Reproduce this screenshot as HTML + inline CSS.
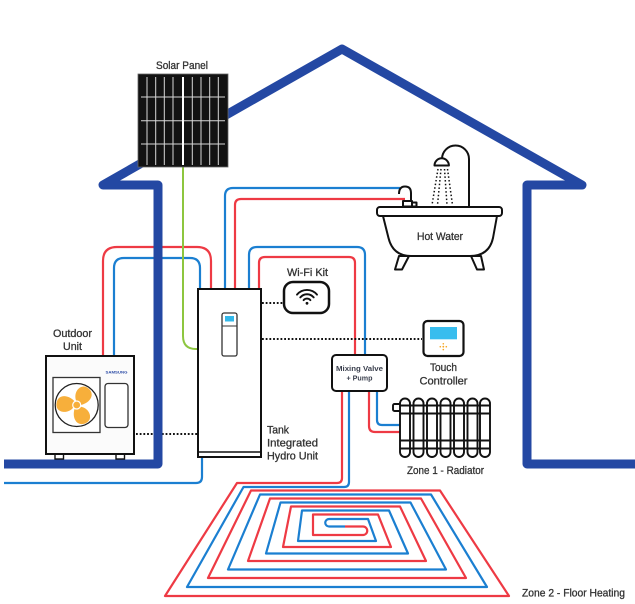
<!DOCTYPE html>
<html><head><meta charset="utf-8"><style>
html,body{margin:0;padding:0;background:#fff;}
body{width:635px;height:604px;overflow:hidden;}
svg{display:block;}
text{font-family:"Liberation Sans",sans-serif;fill:#333;stroke:#333;stroke-width:0.3;}
</style></head><body>
<svg width="635" height="604" viewBox="0 0 635 604" xmlns="http://www.w3.org/2000/svg">
<rect width="635" height="604" fill="#fff"/>

<!-- pipes -->
<g fill="none" stroke-width="2.2" stroke-linejoin="round">
  <path stroke="#ee3a44" d="M103,357 V261 Q103,247 117,247 H197 Q211,247 211,261 V289"/>
  <path stroke="#1b7fd1" d="M114,357 V268 Q114,258 124,258 H190 Q200,258 200,268 V289"/>
  <path stroke="#1b7fd1" d="M225,289 V196 Q225,188 233,188 H400"/>
  <path stroke="#ee3a44" d="M235,289 V205 Q235,199 241,199 H405"/>
  <path stroke="#1b7fd1" d="M249,289 V255 Q249,247 257,247 H357 Q365,247 365,255 V355"/>
  <path stroke="#ee3a44" d="M259,289 V263 Q259,257 265,257 H349 Q355,257 355,263 V355"/>
  <path stroke="#1b7fd1" d="M377,391 V420 Q377,425 382,425 H400"/>
  <path stroke="#ee3a44" d="M369,391 V426 Q369,432 375,432 H400"/>
  <path stroke="#1b7fd1" d="M202,457 V477 Q202,483 196,483 H4"/>
  <!-- floor heating -->
  <path stroke="#ee3a44" d="M342,391 V478 Q342,483 337,483 L237,483 L165,596 L509,596 L440,490.5 L251,490.5 L208,578 L466,578 L421,498.5 L270,498.5 L248,561 L426,561 L400,506.5 L291,506.5 L283,547 L391,547 L378,514.5 L313,514.5 L313,535 L363,535 A4.25,4.25 0 0 0 363,526.5 L345,526.5"/>
  <path stroke="#1b7fd1" d="M349,391 V482 Q349,487 344,487 L243.5,487 L187,587 L487,587 L431,494.5 L260,494.5 L228,569.5 L446,569.5 L410.5,502.5 L280.5,502.5 L266,553.5 L408,553.5 L389,510.5 L302,510.5 L298,541 L376,541 L368,519 L329,519 A3.75,3.75 0 0 0 329,526.5 L345,526.5"/>
  <!-- green solar cable -->
  <path stroke="#8dc63f" stroke-width="2" d="M183,167 V336 Q183,349 196,349 H199"/>
</g>

<!-- dotted lines -->
<g stroke="#111" stroke-width="1.9" stroke-dasharray="1.8 1.9" fill="none">
  <line x1="262" y1="303" x2="283" y2="303"/>
  <line x1="262" y1="339" x2="422" y2="339"/>
  <line x1="136" y1="434" x2="197" y2="434"/>
</g>

<!-- house -->
<path d="M4,464 H158 V185 H103 L342,49 L582,185 H527 V464 H640" fill="none" stroke="#2448a3" stroke-width="9" stroke-linejoin="round"/>

<!-- solar panel -->
<rect x="138" y="74" width="90" height="93" fill="#121212" stroke="#666" stroke-width="0.8"/>
<g stroke="#d8d8d8" stroke-width="1">
  <line x1="147" y1="77" x2="147" y2="165"/>
  <line x1="155.7" y1="77" x2="155.7" y2="165"/>
  <line x1="164.3" y1="77" x2="164.3" y2="165"/>
  <line x1="173" y1="77" x2="173" y2="165"/>
  <line x1="192.3" y1="77" x2="192.3" y2="165"/>
  <line x1="201" y1="77" x2="201" y2="165"/>
  <line x1="209.7" y1="77" x2="209.7" y2="165"/>
  <line x1="218.3" y1="77" x2="218.3" y2="165"/>
  <line x1="141" y1="97" x2="225" y2="97"/>
  <line x1="141" y1="120.7" x2="225" y2="120.7"/>
  <line x1="141" y1="144" x2="225" y2="144"/>
</g>
<line x1="183" y1="77" x2="183" y2="165" stroke="#fff" stroke-width="2"/>
<text x="182" y="69" font-size="11" textLength="52" lengthAdjust="spacingAndGlyphs" text-anchor="middle">Solar Panel</text>

<!-- bathtub -->
<g stroke="#111" stroke-width="2" fill="#fff" stroke-linejoin="round">
  <polygon points="399,256 409,256 402,269.5 395,269.5"/>
  <polygon points="471,256 481,256 484,269.5 477,269.5"/>
  <path d="M383,216 L388.5,238 Q393,256 411,256 L470,256 Q489,256 493,238 L497,216"/>
  <rect x="377" y="207" width="125" height="9" rx="3"/>
  <path d="M399,194 Q399,186.5 405,186.5 Q411,186.5 411,193 V201" fill="none"/>
  <rect x="403" y="201" width="9" height="5.5"/>
  <rect x="412" y="202.5" width="4.5" height="4"/>
  <path d="M469,206.5 V159 A13.5,13.5 0 0 0 442,159 V158.5" fill="none"/>
  <path d="M434.5,165.5 A7.2,7.2 0 0 1 448.9,165.5 Z"/>
</g>
<g stroke="#111" stroke-width="1.5" stroke-dasharray="1.5 2.2" fill="none">
  <line x1="438" y1="169" x2="432" y2="205"/>
  <line x1="441" y1="169" x2="437.5" y2="205"/>
  <line x1="444.5" y1="169" x2="447" y2="205"/>
  <line x1="447.5" y1="169" x2="452.5" y2="205"/>
</g>
<text x="440" y="240" font-size="11" textLength="46" lengthAdjust="spacingAndGlyphs" text-anchor="middle">Hot Water</text>

<!-- Wi-Fi kit -->
<text x="307.5" y="276" font-size="11" textLength="41" lengthAdjust="spacingAndGlyphs" text-anchor="middle">Wi-Fi Kit</text>
<rect x="284" y="282" width="45" height="31" rx="9" fill="#fff" stroke="#111" stroke-width="2.5"/>
<g fill="none" stroke="#111" stroke-width="1.9" stroke-linecap="round">
  <path d="M297,294.6 A13,13 0 0 1 317,294.6"/>
  <path d="M300.3,297.4 A8.7,8.7 0 0 1 313.7,297.4"/>
  <path d="M303.6,300.1 A4.5,4.5 0 0 1 310.4,300.1"/>
</g>
<circle cx="307" cy="303.3" r="1.4" fill="#111"/>

<!-- hydro unit -->
<rect x="198" y="289" width="63" height="168" fill="#fff" stroke="#111" stroke-width="2"/>
<line x1="198" y1="452" x2="261" y2="452" stroke="#111" stroke-width="1.6"/>
<rect x="222" y="313" width="15" height="43" rx="2" fill="#fff" stroke="#333" stroke-width="1.3"/>
<line x1="222" y1="326" x2="237" y2="326" stroke="#333" stroke-width="1"/>
<rect x="225" y="316" width="9" height="5.5" fill="#33b8ea"/>
<text x="267" y="433.5" font-size="11" textLength="22" lengthAdjust="spacingAndGlyphs">Tank</text>
<text x="267" y="446.5" font-size="11" textLength="51" lengthAdjust="spacingAndGlyphs">Integrated</text>
<text x="267" y="459.5" font-size="11" textLength="51" lengthAdjust="spacingAndGlyphs">Hydro Unit</text>

<!-- outdoor unit -->
<text x="72.5" y="337" font-size="11" textLength="39" lengthAdjust="spacingAndGlyphs" text-anchor="middle">Outdoor</text>
<text x="72.5" y="350" font-size="11" textLength="19" lengthAdjust="spacingAndGlyphs" text-anchor="middle">Unit</text>
<rect x="55" y="453" width="8.5" height="6" fill="#fff" stroke="#111" stroke-width="1.4"/>
<rect x="116" y="453" width="8.5" height="6" fill="#fff" stroke="#111" stroke-width="1.4"/>
<rect x="46" y="356" width="88" height="98" fill="#fbfbfb" stroke="#111" stroke-width="2"/>
<rect x="53" y="377.5" width="47" height="55" fill="#fff" stroke="#333" stroke-width="1.3"/>
<circle cx="76.7" cy="405" r="21.5" fill="#fff" stroke="#222" stroke-width="1.3"/>
<g transform="translate(76.7,405)" fill="#f7af3b">
  <path transform="rotate(-45)" d="M2.5,-3 C6,-12 19,-13 20,-3.5 C21,5 12,8.5 3,3 Z"/>
  <path transform="rotate(75)" d="M2.5,-3 C6,-12 19,-13 20,-3.5 C21,5 12,8.5 3,3 Z"/>
  <path transform="rotate(195)" d="M2.5,-3 C6,-12 19,-13 20,-3.5 C21,5 12,8.5 3,3 Z"/>
  <circle r="4" stroke="#fff" stroke-width="1.2"/>
</g>
<rect x="105" y="383.5" width="23" height="44" rx="3" fill="#fff" stroke="#333" stroke-width="1.3"/>
<text x="116.5" y="373.5" font-size="4" font-weight="bold" textLength="22" lengthAdjust="spacingAndGlyphs" text-anchor="middle" style="fill:#2a4aa5;stroke:none">SAMSUNG</text>

<!-- mixing valve -->
<rect x="332" y="355" width="55" height="36" rx="4" fill="#fff" stroke="#111" stroke-width="2"/>
<text x="359.5" y="371" font-size="7.5" font-weight="bold" textLength="47" lengthAdjust="spacingAndGlyphs" text-anchor="middle" style="fill:#3a3f4d;stroke:none">Mixing Valve</text>
<text x="359.5" y="380.5" font-size="7.5" font-weight="bold" textLength="26" lengthAdjust="spacingAndGlyphs" text-anchor="middle" style="fill:#3a3f4d;stroke:none">+ Pump</text>

<!-- touch controller -->
<rect x="423.5" y="321" width="40" height="35" rx="4" fill="#fff" stroke="#111" stroke-width="2.2"/>
<rect x="430" y="327" width="27" height="12.3" fill="#38bdee"/>
<g fill="#f5a623">
  <circle cx="443.3" cy="343.8" r="0.8"/>
  <circle cx="443.3" cy="349.6" r="0.8"/>
  <circle cx="440.3" cy="346.7" r="0.8"/>
  <circle cx="446.3" cy="346.7" r="0.8"/>
  <circle cx="443.3" cy="346.7" r="0.9"/>
</g>
<text x="443.5" y="371" font-size="11" textLength="27" lengthAdjust="spacingAndGlyphs" text-anchor="middle">Touch</text>
<text x="443.5" y="384.5" font-size="11" textLength="48" lengthAdjust="spacingAndGlyphs" text-anchor="middle">Controller</text>

<!-- radiator -->
<g stroke="#111" stroke-width="1.9" fill="#fff">
  <rect x="393" y="404" width="7.5" height="7" rx="1.5"/>
  <rect x="400" y="398.5" width="10" height="58.5" rx="5"/>
  <rect x="413.5" y="398.5" width="10" height="58.5" rx="5"/>
  <rect x="427" y="398.5" width="10" height="58.5" rx="5"/>
  <rect x="440.5" y="398.5" width="10" height="58.5" rx="5"/>
  <rect x="454" y="398.5" width="10" height="58.5" rx="5"/>
  <rect x="467.5" y="398.5" width="10" height="58.5" rx="5"/>
  <rect x="480" y="398.5" width="10" height="58.5" rx="5"/>
  <line x1="400" y1="405.5" x2="490" y2="405.5"/>
  <line x1="400" y1="413.5" x2="490" y2="413.5"/>
  <line x1="400" y1="440.5" x2="490" y2="440.5"/>
  <line x1="400" y1="448.5" x2="490" y2="448.5"/>
</g>
<text x="445.5" y="474" font-size="11" textLength="77" lengthAdjust="spacingAndGlyphs" text-anchor="middle">Zone 1 - Radiator</text>

<text x="522" y="596.5" font-size="11" textLength="103" lengthAdjust="spacingAndGlyphs">Zone 2 - Floor Heating</text>
</svg>
</body></html>
